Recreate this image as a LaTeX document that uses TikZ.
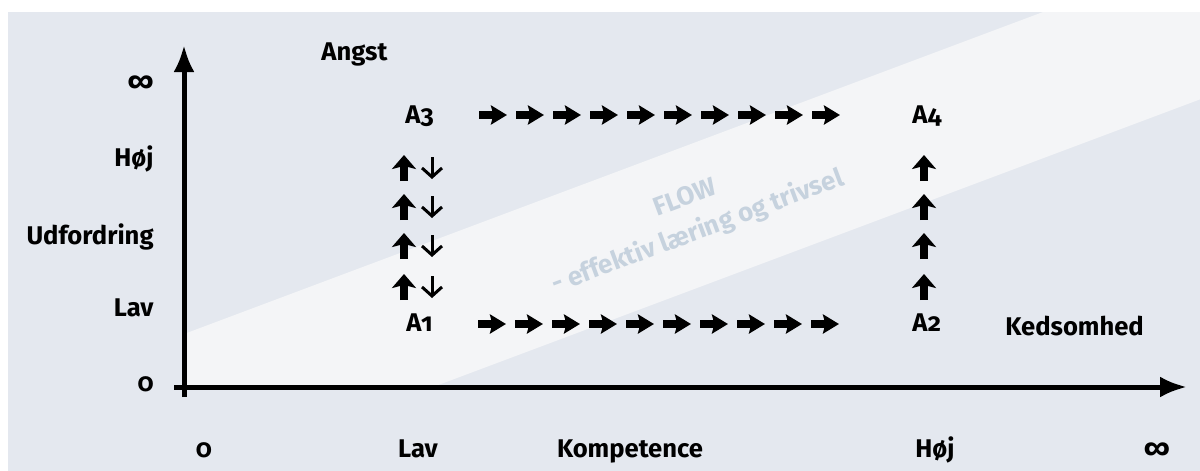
\documentclass[tikz,border=0pt]{standalone}
\usepackage{fontspec}
\setmainfont{Fira Sans}[Numbers=OldStyle]
\usetikzlibrary{arrows.meta}
\definecolor{bggray}{HTML}{E4E8EF}
\definecolor{flowband}{HTML}{F4F5F7}
\definecolor{flowtext}{HTML}{C6D2DE}
\tikzset{>=latex}
\tikzset{
	lbl/.style={font=\fontsize{12.8}{15}\selectfont\bfseries,inner sep=0pt},
	inf/.style={font=\fontsize{14.5}{15}\selectfont\bfseries,inner sep=0pt},
	axis/.style={line width=2.5pt,-{Latex[length=13.5pt,width=10.5pt]}},
	fatright/.style={line width=3.6pt,-{Stealth[length=8pt,width=9.5pt,inset=1.2pt]}},
	fatup/.style={line width=4pt,-{Stealth[length=7pt,width=12pt,inset=1.5pt]}},
	thindown/.style={line width=1.5pt,-{Straight Barb[length=4.5pt,width=10pt]}},
}

\begin{document}
\begin{tikzpicture}[x=0.5pt,y=-0.5pt]
	\useasboundingbox (0,0) rectangle (1200,471);
	\fill[bggray](8,12) rectangle (1200,471);
	\fill[flowband](184,387)--(184,334)--(1043,12)--(1200,12)--(1200,99.4)--(433,387)--cycle;
	\node[lbl,text=flowtext,rotate=20.5,align=center,font=\fontsize{13}{18}\selectfont\bfseries] (flow) at(692,216) {FLOW\\- effektiv læring og trivsel};

	\coordinate (o) at(184,387);
	\coordinate (ybund) at(184,397);
	\coordinate (ytop) at(184,45);
	\coordinate (xstart) at(174,387);
	\coordinate (xend) at(1187,387);
	\draw[axis](ybund)--(ytop);
	\draw[axis](xstart)--(xend);

	\node[lbl,anchor=base west] (angst) at(321,61) {Angst};
	\node[inf,anchor=east] (yinf) at(154,84) {∞};
	\node[lbl,anchor=base east] (yhoj) at(154,166) {Høj};
	\node[lbl,anchor=base east] (yudf) at(154,244) {Udfordring};
	\node[lbl,anchor=base east] (ylav) at(154,316) {Lav};
	\node[lbl,anchor=base east] (ynul) at(154,391) {0};

	\node[lbl,anchor=base] (xnul) at(204,457) {0};
	\node[lbl,anchor=base] (xlav) at(418,457) {Lav};
	\node[lbl,anchor=base] (xkomp) at(630,457) {Kompetence};
	\node[lbl,anchor=base] (xhoj) at(935,457) {Høj};
	\node[inf] (xinf) at(1157,451) {∞};

	\node[lbl,anchor=base west] (a3) at(405,123) {A3};
	\node[lbl,anchor=base west] (a4) at(912,123) {A4};
	\node[lbl,anchor=base west] (a1) at(406,331) {A1};
	\node[lbl,anchor=base west] (a2) at(912,331) {A2};
	\node[lbl,anchor=base west] (keds) at(1005,335) {Kedsomhed};

	\foreach \i in {0,...,9}{
		\draw[fatright](479+37*\i,115)--++(28,0);
		\draw[fatright](478+37*\i,324)--++(28,0);
	}
	\foreach \y in {168,207,246,287}{
		\draw[fatup](404,\y+13)--(404,\y-13);
		\draw[thindown](432,\y-11)--(432,\y+11);
		\draw[fatup](924,\y+13)--(924,\y-13);
	}
\end{tikzpicture}
\end{document}
